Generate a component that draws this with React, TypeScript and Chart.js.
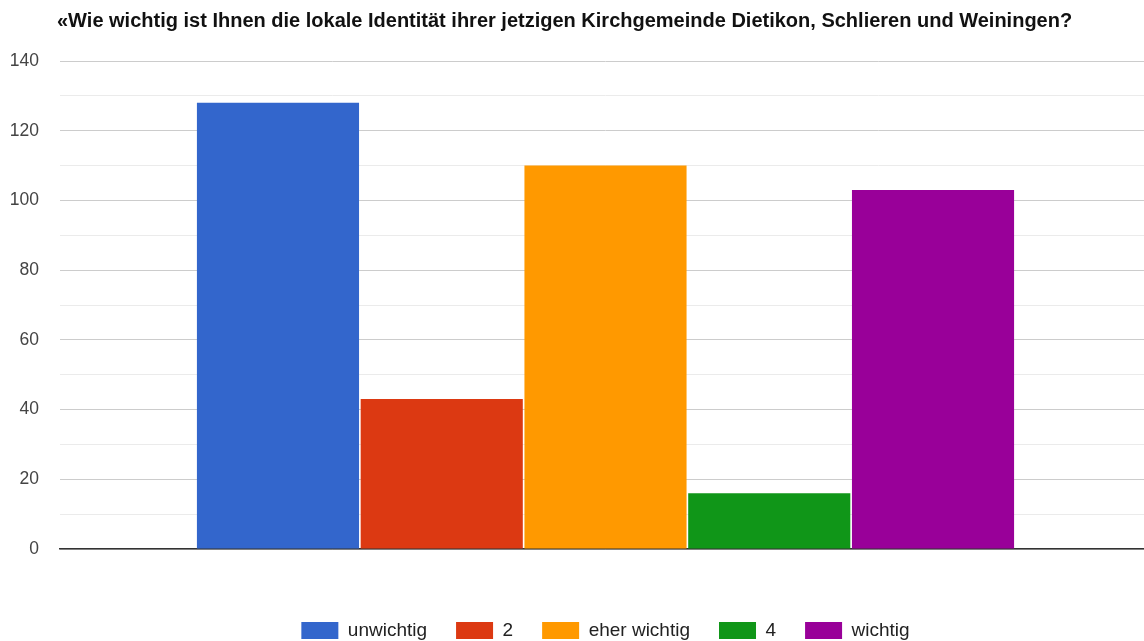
import React, { useEffect, useRef } from "react";
import { Chart, registerables } from "chart.js";

Chart.register(...registerables);

const titleText =
  "«Wie wichtig ist Ihnen die lokale Identität ihrer jetzigen Kirchgemeinde Dietikon, Schlieren und Weiningen?";
const categories = [""];
const seriesLabels = ["unwichtig", "2", "eher wichtig", "4", "wichtig"];
const seriesValues = [128, 43, 110, 16, 103];
const seriesColors = ["#3366cc", "#dc3912", "#ff9900", "#109618", "#990099"];
const yMin = 0;
const yMax = 140;
const yStep = 10;
const yLabelStep = 20;

const FONT = "Arial, 'Liberation Sans', Helvetica, sans-serif";

const titlePlugin = {
  id: "customTitle",
  afterDraw(chart: any) {
    const ctx = chart.ctx;
    ctx.save();
    ctx.font = `bold 20px ${FONT}`;
    ctx.fillStyle = "#111111";
    ctx.textAlign = "left";
    ctx.textBaseline = "alphabetic";
    ctx.fillText(titleText, 57, 27);
    ctx.restore();
  },
};

export default function App() {
  const ref = useRef<HTMLCanvasElement | null>(null);

  useEffect(() => {
    document.body.style.margin = "0";
    if (!ref.current) return;
    const chart = new Chart(ref.current, {
      type: "bar",
      data: {
        labels: categories,
        datasets: seriesLabels.map((label, i) => ({
          label,
          data: [seriesValues[i]],
          backgroundColor: seriesColors[i],
          borderWidth: 0,
          barPercentage: 0.99,
          categoryPercentage: 0.7505,
        })),
      },
      options: {
        responsive: false,
        animation: false,
        devicePixelRatio: 1,
        layout: { padding: { top: 61, left: 0, right: 0, bottom: 0 } },
        plugins: {
          title: { display: false },
          tooltip: { enabled: false },
          legend: {
            position: "bottom",
            fullSize: false,
            labels: {
              boxWidth: 37,
              boxHeight: 17,
              padding: 29,
              color: "#222222",
              font: { size: 19, family: FONT },
            },
          },
        },
        scales: {
          x: {
            afterFit(scale: any) {
              scale.height = 43;
            },
            ticks: { display: false },
            grid: { display: false },
            border: { display: true, color: "#333333", width: 1.5 },
          },
          y: {
            min: yMin,
            max: yMax,
            afterFit(scale: any) {
              scale.width = 60;
            },
            ticks: {
              stepSize: yStep,
              padding: 21,
              color: "#444444",
              font: { size: 17.5, family: FONT },
              callback: (v: any) => (Number(v) % yLabelStep === 0 ? String(v) : ""),
            },
            grid: {
              drawTicks: false,
              color: (c: any) =>
                c.tick && c.tick.value % yLabelStep === 0 ? "#cccccc" : "#ebebeb",
              lineWidth: 1,
            },
            border: { display: false },
          },
        },
      },
      plugins: [titlePlugin],
    });
    return () => chart.destroy();
  }, []);

  return (
    <div style={{ width: 1144, height: 641, overflow: "hidden", background: "#ffffff" }}>
      <canvas ref={ref} width={1151} height={650} style={{ display: "block" }} />
    </div>
  );
}
